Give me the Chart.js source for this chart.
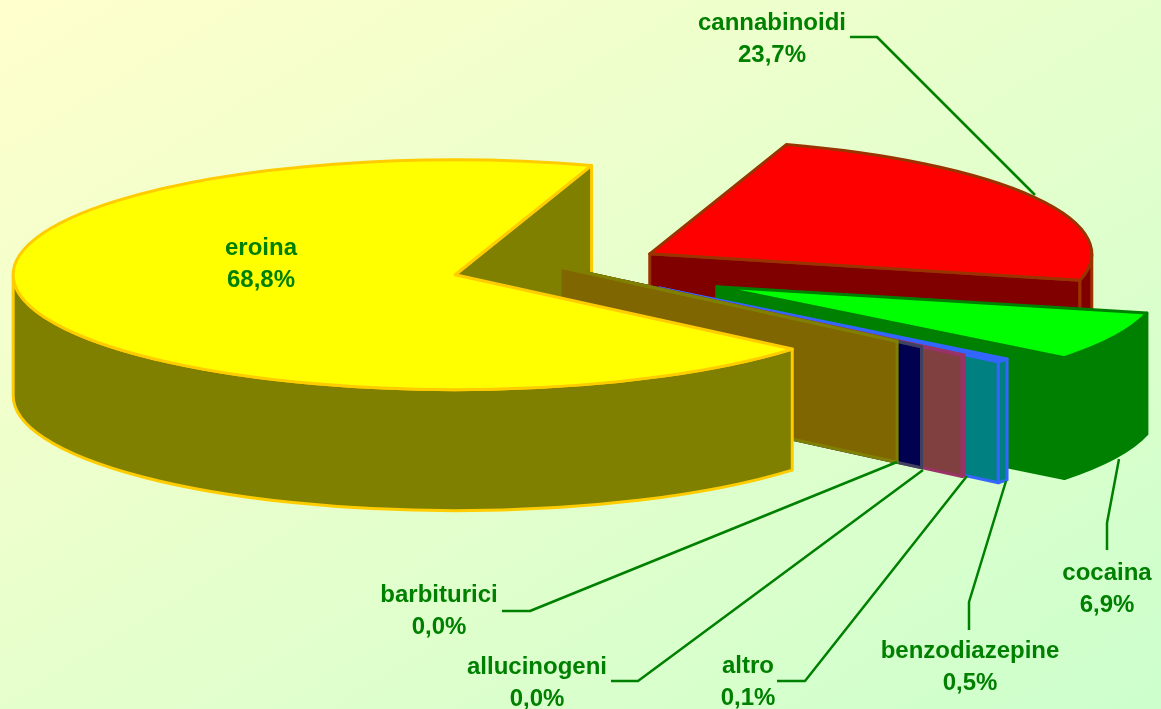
<!DOCTYPE html>
<html lang="it">
<head>
    <meta charset="UTF-8">
    <title>Sostanze</title>
    <script src="https://cdn.jsdelivr.net/npm/chart.js"></script>
    <style>
        html, body { margin: 0; height: 100%; overflow: hidden; }
        body { background: linear-gradient(to bottom right, #ffffcc, #ccffcc); }
        canvas { display: block; }
    </style>
</head>
<body>
    <canvas id="pie" width="1161" height="709"></canvas>

    <script>
        // Data
        const categories = ["eroina", "cannabinoidi", "cocaina", "benzodiazepine", "altro", "allucinogeni", "barbiturici"];
        const shares = [68.8, 23.7, 6.9, 0.5, 0.1, 0.0, 0.0];

        // Look of the slices
        const topColors = ["#ffff00", "#ff0000", "#00ff00", "#3366ff", "#ff8080", "#000099", "#ffcc00"];
        const wallColors = ["#808000", "#800000", "#008000", "#008080", "#804040", "#000050", "#806600"];
        const edgeColors = ["#ffcc00", "#993300", "#008000", "#3366ff", "#993366", "#404060", "#808000"];
        const explode = [109, 103, 174, 128, 85, 32, 0];

        // 3D view
        const SQUASH = 0.26;
        const DEPTH = 121;
        const RADIUS = 442;

        // Label centre and leader line for each category
        const labelLayout = [
            { x: 261, y: 248, leader: null },
            { x: 772, y: 23, leader: [[850, 37], [877, 37], [1035, 195]] },
            { x: 1107, y: 573, leader: [[1107, 550], [1107, 523], [1119, 459]] },
            { x: 970, y: 651, leader: [[969, 630], [969, 602], [1006, 481]] },
            { x: 748, y: 666, leader: [[777, 681], [805, 681], [967, 476]] },
            { x: 537, y: 667, leader: [[611, 681], [638, 681], [923, 470]] },
            { x: 439, y: 595, leader: [[502, 611], [530, 611], [897, 462]] }
        ];

        // Pie controller that tilts the disc and gives each slice a wall
        class Pie3DController extends Chart.PieController {
            draw() {
                const ctx = this.chart.ctx;
                const arcs = this._cachedMeta.data;

                // Inner wall of the big slice sits behind everything else
                this.radialWalls(ctx, arcs[0], 0);
                for (let i = 1; i < arcs.length; i++) {
                    this.radialWalls(ctx, arcs[i], i);
                    this.rimWall(ctx, arcs[i], i);
                    this.topFace(ctx, arcs[i], i);
                }
                this.rimWall(ctx, arcs[0], 0);
                this.topFace(ctx, arcs[0], 0);
            }

            shift(arc, i) {
                const mid = (arc.startAngle + arc.endAngle) / 2;
                return {
                    x: arc.x + Math.cos(mid) * explode[i],
                    y: arc.y + Math.sin(mid) * explode[i] * SQUASH
                };
            }

            setPens(ctx, i) {
                ctx.fillStyle = wallColors[i];
                ctx.strokeStyle = edgeColors[i];
                ctx.lineWidth = 3;
                ctx.lineJoin = "round";
            }

            topFace(ctx, arc, i) {
                // The library draws the arc inside the tilted space
                const mid = (arc.startAngle + arc.endAngle) / 2;
                ctx.save();
                ctx.translate(0, arc.y);
                ctx.scale(1, SQUASH);
                ctx.translate(Math.cos(mid) * explode[i], Math.sin(mid) * explode[i] - arc.y);
                arc.draw(ctx);
                ctx.restore();

                // Outline is stroked untilted so its width stays even
                const c = this.shift(arc, i);
                this.setPens(ctx, i);
                ctx.beginPath();
                ctx.moveTo(c.x, c.y);
                ctx.ellipse(c.x, c.y, arc.outerRadius, arc.outerRadius * SQUASH, 0, arc.startAngle, arc.endAngle);
                ctx.closePath();
                ctx.stroke();
            }

            radialWalls(ctx, arc, i) {
                const c = this.shift(arc, i);
                const r = arc.outerRadius;
                this.setPens(ctx, i);
                // Only the edge that faces the viewer is visible
                [arc.startAngle, arc.endAngle].forEach(function (a, k) {
                    const facing = k === 0 ? Math.cos(a) < 0 : Math.cos(a) > 0;
                    if (!facing) return;
                    const ex = c.x + Math.cos(a) * r;
                    const ey = c.y + Math.sin(a) * r * SQUASH;
                    ctx.beginPath();
                    ctx.moveTo(c.x, c.y);
                    ctx.lineTo(ex, ey);
                    ctx.lineTo(ex, ey + DEPTH);
                    ctx.lineTo(c.x, c.y + DEPTH);
                    ctx.closePath();
                    ctx.fill();
                    ctx.stroke();
                });
            }

            rimWall(ctx, arc, i) {
                const c = this.shift(arc, i);
                const r = arc.outerRadius;
                this.setPens(ctx, i);
                // Front half of the ellipse only, angles may run past a full turn
                [0, 2 * Math.PI].forEach(function (turn) {
                    const from = Math.max(arc.startAngle - turn, 0);
                    const to = Math.min(arc.endAngle - turn, Math.PI);
                    if (to <= from) return;
                    ctx.beginPath();
                    ctx.ellipse(c.x, c.y, r, r * SQUASH, 0, from, to);
                    ctx.ellipse(c.x, c.y + DEPTH, r, r * SQUASH, 0, to, from, true);
                    ctx.closePath();
                    ctx.fill();
                    ctx.stroke();
                });
            }
        }
        Pie3DController.id = "pie3d";
        Pie3DController.defaults = Chart.PieController.defaults;
        Chart.register(Pie3DController);

        // Labels with percentages and leader lines
        const labelPlugin = {
            id: "sliceLabels",
            afterDraw(chart) {
                const ctx = chart.ctx;
                ctx.save();
                ctx.fillStyle = "#008000";
                ctx.strokeStyle = "#008000";
                ctx.lineWidth = 2.5;
                ctx.font = "bold 24px 'Liberation Sans'";
                ctx.textAlign = "center";
                ctx.textBaseline = "middle";
                categories.forEach(function (name, i) {
                    const spot = labelLayout[i];
                    ctx.fillText(name, spot.x, spot.y);
                    ctx.fillText(shares[i].toFixed(1).replace(".", ",") + "%", spot.x, spot.y + 32);
                    if (spot.leader) {
                        ctx.beginPath();
                        spot.leader.forEach(function (p, k) {
                            if (k === 0) ctx.moveTo(p[0], p[1]);
                            else ctx.lineTo(p[0], p[1]);
                        });
                        ctx.stroke();
                    }
                });
                ctx.restore();
            }
        };

        new Chart(document.getElementById("pie"), {
            type: "pie3d",
            data: {
                labels: categories,
                datasets: [{
                    data: shares,
                    backgroundColor: topColors,
                    borderColor: edgeColors,
                    borderWidth: 0
                }]
            },
            options: {
                responsive: false,
                animation: false,
                rotation: 130.3,
                radius: RADIUS,
                // Puts the chart centre where the un-exploded pie sits
                layout: { padding: { left: 0, top: 0, right: 41, bottom: 175 } },
                plugins: { legend: { display: false }, tooltip: { enabled: false } }
            },
            plugins: [labelPlugin]
        });
    </script>
</body>
</html>
